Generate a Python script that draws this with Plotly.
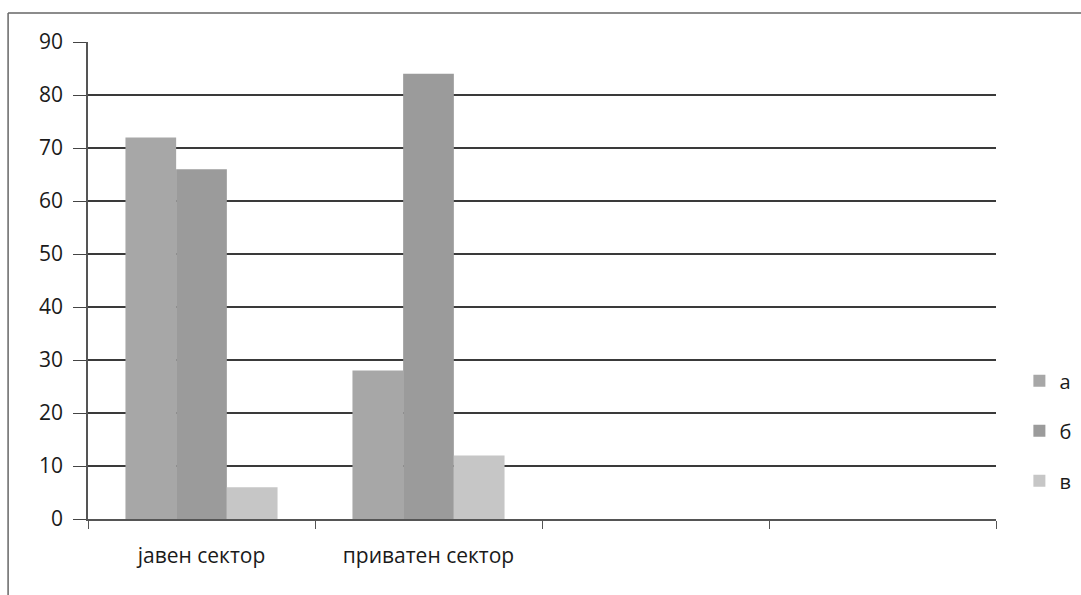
import plotly.graph_objects as go

# Categories on the x axis (the last two slots are empty)
categories = ["јавен сектор", "приватен сектор", " ", "  "]
series_names = ["а", "б", "в"]
values_a = [72, 28, None, None]
values_b = [66, 84, None, None]
values_v = [6, 12, None, None]
y_ticks = [0, 10, 20, 30, 40, 50, 60, 70, 80, 90]

colors = ["#a7a7a7", "#9b9b9b", "#c6c6c6"]
font_family = "'Open Sans', sans-serif"

fig = go.Figure()
for i, (name, vals) in enumerate(zip(series_names, [values_a, values_b, values_v])):
    fig.add_trace(go.Bar(
        x=categories, y=vals, name=name,
        marker=dict(color=colors[i], line=dict(width=0)),
        legendgroup=name,
    ))

fig.update_layout(
    width=1081, height=595,
    margin=dict(l=88, r=85, t=42, b=76),
    paper_bgcolor="white", plot_bgcolor="white",
    barmode="group", bargap=0.33, bargroupgap=0,
    font=dict(family=font_family, size=20, color="#1a1a1a"),
    showlegend=True,
    legend=dict(xref="container", yref="container",
                x=0.943, y=0.276, xanchor="left", yanchor="middle",
                font=dict(size=20), tracegroupgap=21,
                bgcolor="rgba(0,0,0,0)"),
)

fig.update_xaxes(
    type="category", categoryorder="array", categoryarray=categories,
    tickson="boundaries", ticks="outside", ticklen=8, tickcolor="#555",
    showline=True, linecolor="#555", linewidth=1.5,
    showgrid=False, tickfont=dict(size=21), ticklabelstandoff=17,
)
fig.update_yaxes(
    range=[0, 90], tickvals=y_ticks, ticks="outside", ticklen=13,
    tickcolor="#444", showline=True, linecolor="#555", linewidth=1.5,
    showgrid=True, gridcolor="#3a3a3a", gridwidth=1.5, zeroline=False,
    tickfont=dict(size=21), ticklabelstandoff=6,
)

# Outer chart border (left and top edges)
fig.add_shape(type="line", xref="paper", yref="paper",
              x0=-0.088, x1=-0.088, y0=1.061, y1=-0.2,
              line=dict(color="#666", width=1.5))
fig.add_shape(type="line", xref="paper", yref="paper",
              x0=-0.088, x1=1.1, y0=1.061, y1=1.061,
              line=dict(color="#666", width=1.5))

fig.write_html("out.html")
